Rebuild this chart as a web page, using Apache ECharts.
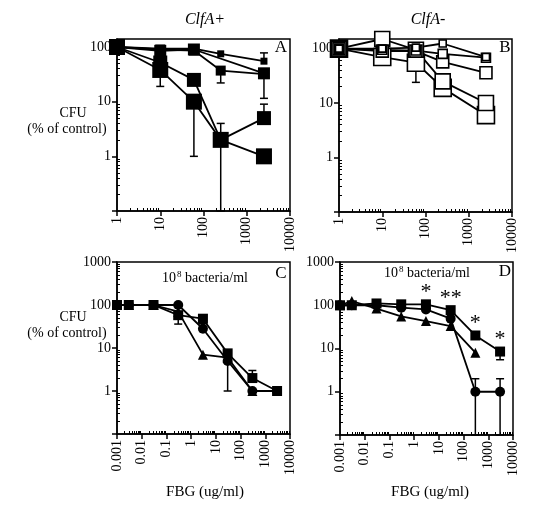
<!DOCTYPE html>
<html><head><meta charset="utf-8">
<script src="https://cdn.jsdelivr.net/npm/echarts@6/dist/echarts.min.js"></script>
<style>html,body{margin:0;padding:0;background:#fff}#c{width:534px;height:512px}</style>
</head><body><div id="c"></div>
<script>
// ---- data ----
const xAB = [1, 10, 60, 250, 2500];
const a1 = [100, 93, 93, 75, 55];
const a2 = [100, 90, 86, 37, 32];
const a3 = [100, 85, 90, null, 33];
const a4 = [100, 52, 25, 2, 5];
const a5 = [100, 38, 10, 2, 1];
const b1 = [100, 100, 104, 124, 70];
const b2 = [100, 95, 92, 80, 68];
const b3 = [100, 90, 90, 57, 36];
const b4 = [100, 150, 95, 25, 10];
const b5 = [100, 70, 55, 19, 6];
const xCD = [0.001, 0.003, 0.03, 0.3, 3, 30, 300, 3000];
const cSq = [100, 100, 100, 58, 48, 7.5, 2, 1];
const cCi = [100, 100, 100, 100, 28, 5, 1, 1];
const cTr = [100, 100, 100, 70, 7, 6, 1, null];
const dSq = [100, 100, 110, 105, 105, 77, 20, 8.5];
const dCi = [100, 100, 100, 88, 80, 49, 1, 1];
const dTr = [100, 125, 84, 55, 43, 33, 8, null];
const dSig = ['', '', '', '', '*', '**', '*', '*'];
// error bars: [x, from, to]
const errA = [[10, 38, 19], [60, 10, 1], [250, 2, 4], [250, 2, 0.1], [250, 37, 22], [2500, 55, 78], [2500, 32, 11.5], [2500, 5, 9]];
const errB = [[60, 55, 24], [250, 19, 16]];
const errC = [[0.3, 58, 36], [3, 48, 37], [30, 5, 1], [300, 2, 3]];
const errD = [[300, 1, 2], [300, 1, 0.1], [3000, 1, 2], [3000, 1, 0.1], [3000, 8.5, 5.5]];
// axis tick values
const decadesAB_x = [1, 10, 100, 1000, 10000];
const decadesCD_x = [0.001, 0.01, 0.1, 1, 10, 100, 1000, 10000];
const decadesAB_y = [1, 10, 100];
const decadesCD_y = [1, 10, 100, 1000];

const FONT = 'Liberation Serif';
const chart = echarts.init(document.getElementById('c'));

function pairs(xs, ys) {
  const out = [];
  xs.forEach((x, i) => { if (ys[i] != null) out.push([x, ys[i]]); });
  return out;
}
// minor log ticks (2..9 per decade) between lo and hi
function minorVals(lo, hi) {
  const out = [];
  for (let e = Math.floor(Math.log10(lo)); e < Math.ceil(Math.log10(hi)); e++) {
    for (let m = 2; m <= 9; m++) {
      const v = +(m * Math.pow(10, e)).toPrecision(6);
      if (v > lo && v < hi) out.push(v);
    }
  }
  return out;
}
const lineCol = { color: '#000', width: 1.5 };
function mainAx(isX, gi, min, max, labels, tickVals) {
  const ax = {
    type: 'log', logBase: 10, gridIndex: gi, min: min, max: max,
    position: isX ? 'bottom' : 'left',
    axisLine: { show: true, onZero: false, lineStyle: lineCol },
    axisTick: { show: true, length: 5, lineStyle: lineCol, customValues: tickVals },
    splitLine: { show: false },
    axisLabel: {
      margin: 6, fontFamily: FONT, fontSize: 14, color: '#000', customValues: labels,
      formatter: v => String(+(+v).toPrecision(6))
    }
  };
  if (isX) ax.axisLabel.rotate = 90;
  return ax;
}
function minorAx(isX, gi, min, max) {
  return {
    type: 'log', logBase: 10, gridIndex: gi, min: min, max: max,
    position: isX ? 'bottom' : 'left',
    axisLine: { show: false, onZero: false },
    axisTick: { show: true, inside: true, length: 3, lineStyle: { color: '#000', width: 1 }, customValues: minorVals(min, max) },
    splitLine: { show: false },
    axisLabel: { show: false }
  };
}
function lineS(gi, xs, ys, symbol, size, open) {
  return {
    type: 'line', xAxisIndex: gi, yAxisIndex: gi, data: pairs(xs, ys),
    symbol: symbol, symbolSize: size, showAllSymbol: true, z: 3,
    lineStyle: { color: '#000', width: 1.8 },
    itemStyle: open ? { color: '#fff', borderColor: '#000', borderWidth: 1.6 } : { color: '#000', borderColor: '#000', borderWidth: 0 },
    emphasis: { disabled: true }, animation: false
  };
}
function errS(gi, data) {
  return {
    type: 'custom', xAxisIndex: gi, yAxisIndex: gi, data: data, z: 2,
    encode: { x: 0, y: [1, 2] }, animation: false, clip: false,
    renderItem: function (params, api) {
      const p0 = api.coord([api.value(0), api.value(1)]);
      const p1 = api.coord([api.value(0), api.value(2)]);
      const hw = 4;
      return {
        type: 'group', children: [
          { type: 'line', shape: { x1: p0[0], y1: p0[1], x2: p1[0], y2: p1[1] }, style: { stroke: '#000', lineWidth: 1.5 } },
          { type: 'line', shape: { x1: p1[0] - hw, y1: p1[1], x2: p1[0] + hw, y2: p1[1] }, style: { stroke: '#000', lineWidth: 1.5 } }
        ]
      };
    }
  };
}
function txt(x, y, text, size, italic) {
  return {
    type: 'text', x: x, y: y, silent: true,
    style: { text: text, fontFamily: FONT, fontSize: size, fontStyle: italic ? 'italic' : 'normal', fill: '#000', align: 'center', verticalAlign: 'middle' }
  };
}
function bact(x, y) {
  return {
    type: 'text', x: x, y: y, silent: true,
    style: {
      text: '{a|10}{s|8}{a| bacteria/ml}', align: 'center', verticalAlign: 'middle',
      rich: {
        a: { fontFamily: FONT, fontSize: 14, fill: '#000', verticalAlign: 'bottom' },
        s: { fontFamily: FONT, fontSize: 9, fill: '#000', verticalAlign: 'bottom', padding: [0, 0, 6, 1] }
      }
    }
  };
}

const gridStyle = { show: true, borderColor: '#000', borderWidth: 1.5, backgroundColor: 'transparent' };
const dSqData = pairs(xCD, dSq).map((p, i) => ({
  value: p,
  label: { show: dSig[i] !== '', formatter: dSig[i], position: 'top', distance: -4, fontFamily: FONT, fontSize: 22, color: '#000' }
}));

const option = {
  animation: false,
  grid: [
    Object.assign({ left: 117, top: 39, width: 173, height: 172 }, gridStyle),
    Object.assign({ left: 339, top: 39, width: 173, height: 173 }, gridStyle),
    Object.assign({ left: 117, top: 262, width: 173, height: 172 }, gridStyle),
    Object.assign({ left: 340, top: 262, width: 173, height: 173 }, gridStyle)
  ],
  xAxis: [
    mainAx(true, 0, 1, 10000, decadesAB_x, decadesAB_x),
    mainAx(true, 1, 1, 10000, decadesAB_x, decadesAB_x),
    mainAx(true, 2, 0.001, 10000, decadesCD_x, decadesCD_x),
    mainAx(true, 3, 0.001, 10000, decadesCD_x, decadesCD_x),
    minorAx(true, 0, 1, 10000), minorAx(true, 1, 1, 10000), minorAx(true, 2, 0.001, 10000), minorAx(true, 3, 0.001, 10000)
  ],
  yAxis: [
    mainAx(false, 0, 0.1, 140, decadesAB_y, [0.1].concat(decadesAB_y)),
    mainAx(false, 1, 0.1, 150, decadesAB_y, [0.1].concat(decadesAB_y)),
    mainAx(false, 2, 0.1, 1000, decadesCD_y, [0.1].concat(decadesCD_y)),
    mainAx(false, 3, 0.1, 1000, decadesCD_y, [0.1].concat(decadesCD_y)),
    minorAx(false, 0, 0.1, 140), minorAx(false, 1, 0.1, 150), minorAx(false, 2, 0.1, 1000), minorAx(false, 3, 0.1, 1000)
  ],
  series: [
    errS(0, errA),
    lineS(0, xAB, a1, 'rect', 7, false),
    lineS(0, xAB, a2, 'rect', 10, false),
    lineS(0, xAB, a3, 'rect', 12, false),
    lineS(0, xAB, a4, 'rect', 14, false),
    lineS(0, xAB, a5, 'rect', 16, false),
    errS(1, errB),
    lineS(1, xAB, b5, 'rect', 17, true),
    lineS(1, xAB, b4, 'rect', 15, true),
    lineS(1, xAB, b3, 'rect', 12, true),
    lineS(1, xAB, b2, 'rect', 9, true),
    lineS(1, xAB, b1, 'rect', 7, true),
    errS(2, errC),
    lineS(2, xCD, cTr, 'triangle', 10, false),
    lineS(2, xCD, cCi, 'circle', 10, false),
    lineS(2, xCD, cSq, 'rect', 10, false),
    errS(3, errD),
    lineS(3, xCD, dTr, 'triangle', 10, false),
    lineS(3, xCD, dCi, 'circle', 10, false),
    Object.assign(lineS(3, xCD, dSq, 'rect', 10, false), { data: dSqData })
  ],
  graphic: [
    txt(205, 20, 'ClfA+', 16, true),
    txt(428, 20, 'ClfA-', 16, true),
    txt(73, 113, 'CFU', 14),
    txt(67, 129, '(% of control)', 14),
    txt(73, 317, 'CFU', 14),
    txt(67, 333, '(% of control)', 14),
    txt(281, 48, 'A', 17),
    txt(505, 48, 'B', 17),
    txt(281, 274, 'C', 17),
    txt(505, 272, 'D', 17),
    bact(205, 278),
    bact(427, 273),
    txt(205, 492, 'FBG (ug/ml)', 15),
    txt(430, 492, 'FBG (ug/ml)', 15)
  ]
};
chart.setOption(option);
</script>
</body></html>
